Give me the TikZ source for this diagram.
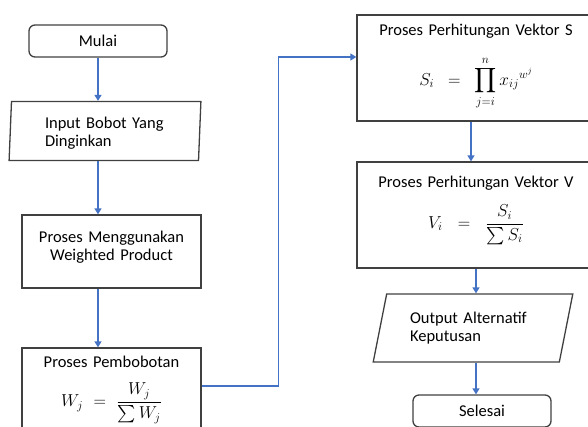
\documentclass[tikz,border=0pt]{standalone}
\usepackage{amsmath}
\usepackage{fontspec}
\setmainfont{Carlito}
\usepackage{tikz}
\usetikzlibrary{shapes.geometric,arrows.meta}
\definecolor{flowblue}{RGB}{68,114,196}
\definecolor{edgegray}{RGB}{64,64,64}
\newcommand{\flowfont}{\fontsize{16.5pt}{18pt}\selectfont}
\tikzstyle{startstop} = [rectangle, rounded corners=6pt, text centered, draw=edgegray, line width=1.3pt, minimum width=138pt, minimum height=32pt, font=\flowfont]
\tikzstyle{io} = [trapezium, trapezium left angle=73, trapezium right angle=107, trapezium stretches, align=left, draw=edgegray, line width=1.3pt, inner sep=0pt, font=\flowfont]
\tikzstyle{process} = [rectangle, text centered, draw=edgegray, line width=1.3pt, inner sep=0pt, text height=0pt, font=\flowfont]
\tikzstyle{arrow} = [line width=1.3pt, draw=flowblue, ->, >={Triangle[width=7pt,length=6pt]}, flowblue]

\begin{document}
\begin{tikzpicture}[node distance=90pt]

\useasboundingbox (0,0) rectangle (588pt,-426pt);
\clip (0,0) rectangle (588pt,-426pt);

\node (mulai) [startstop] at (98pt,-41pt) {Mulai};

\node (input) [io, below of=mulai, xshift=7pt, minimum width=192pt, minimum height=59pt, text width=120pt, text height=0pt, text depth=5pt] {Input Bobot Yang\\Dinginkan};

\node (menggunakan) [process, below of=input, xshift=6.5pt, yshift=-30.5pt, minimum width=179pt, minimum height=73pt, text width=179pt, text depth=18pt] {Proses Menggunakan\\Weighted Product};

\node (pembobotan) [process, below of=menggunakan, yshift=-56.5pt, minimum width=179pt, minimum height=100pt, text width=179pt, text depth=62pt] {Proses Pembobotan\\[15pt] $W_j = \dfrac{W_j}{\sum W_j}$};

\node (vektorS) [process, right of=mulai, xshift=288pt, yshift=-27pt, minimum width=238pt, minimum height=106pt, text width=238pt, text depth=66pt] {Proses Perhitungan Vektor S\\[18pt] $S_i = \displaystyle\prod_{j=i}^{n} {x_{ij}}^{w^j}$};

\node (vektorV) [process, below of=vektorS, yshift=-57pt, minimum width=238pt, minimum height=106pt, text width=238pt, text depth=56pt] {Proses Perhitungan Vektor V\\[14pt] $V_i = \dfrac{S_i}{\sum S_i}$};

\node (output) [io, below of=vektorV, xshift=-3pt, yshift=-23pt, minimum width=200pt, minimum height=68pt, text width=126pt] {Output Alternatif\\Keputusan};

\node (selesai) [startstop, below of=output, xshift=9pt, yshift=7pt] {Selesai};

\draw [arrow] (mulai.south) -- (mulai.south |- input.north);
\draw [arrow] (input.south -| mulai.south) -- (menggunakan.north -| mulai.south);
\draw [arrow] (menggunakan.south -| mulai.south) -- (pembobotan.north -| mulai.south);
\draw [arrow] ([yshift=12pt]pembobotan.east) -| ([xshift=-78pt,yshift=11pt]vektorS.west) -- ([yshift=11pt]vektorS.west);
\draw [arrow] ([xshift=-5pt]vektorS.south) -- ([xshift=-5pt]vektorV.north);
\draw [arrow] (vektorV.south) -- (vektorV.south |- output.north);
\draw [arrow] (output.south -| vektorV.south) -- (selesai.north -| vektorV.south);

\end{tikzpicture}
\end{document}
